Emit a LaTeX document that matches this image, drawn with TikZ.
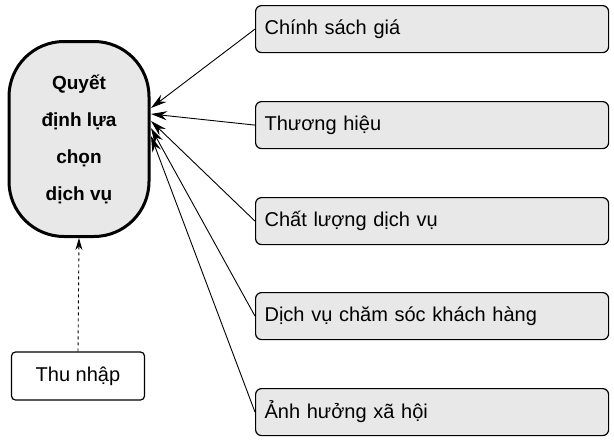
\documentclass[tikz,border=0pt]{standalone}
\usepackage{fontspec}
\setmainfont{Liberation Sans}
\usetikzlibrary{arrows.meta}
\begin{document}
\begin{tikzpicture}[x=1pt,y=-1pt,
 factor/.style={draw,line width=1.2pt,fill=gray!18,rounded corners=6pt,minimum width=353pt,minimum height=47pt,anchor=north west,text width=335pt,align=left,font=\fontsize{20}{24}\selectfont},
 arr/.style={line width=0.9pt,-{Stealth[length=16pt,width=9pt]}},
]
\useasboundingbox (0,0) rectangle (614,445);
\node[draw,line width=3pt,fill=gray!18,rounded corners=55pt,minimum width=140pt,minimum height=195pt,align=center,font=\bfseries\fontsize{19}{37}\selectfont] (q) at (79,139) {Quyết\\định lựa\\chọn\\dịch vụ};
\node[factor] (a) at (255,5) {Chính sách giá};
\node[factor] (b) at (255,101) {Thương hiệu};
\node[factor] (c) at (255,197) {Chất lượng dịch vụ};
\node[factor] (d) at (255,292) {Dịch vụ chăm sóc khách hàng};
\node[factor] (e) at (255,388) {Ảnh hưởng xã hội};
\node[draw,line width=1.2pt,rounded corners=4pt,minimum width=133pt,minimum height=48pt,font=\fontsize{20}{24}\selectfont] (t) at (78,376) {Thu nhập};
\coordinate (p1) at (151,108);
\coordinate (p2) at (151,114);
\coordinate (p3) at (151,121);
\coordinate (p4) at (151,128);
\coordinate (p5) at (151,136);
\draw[arr] (a.west) -- (p1);
\draw[arr] (b.west) -- (p2);
\draw[arr] (c.west) -- (p3);
\draw[arr] (d.west) -- (p4);
\draw[arr] (e.west) -- (p5);
\draw[line width=0.9pt,dashed,-{Stealth[length=12pt,width=7pt]}] (t.north) -- (q.south);
\end{tikzpicture}
\end{document}
